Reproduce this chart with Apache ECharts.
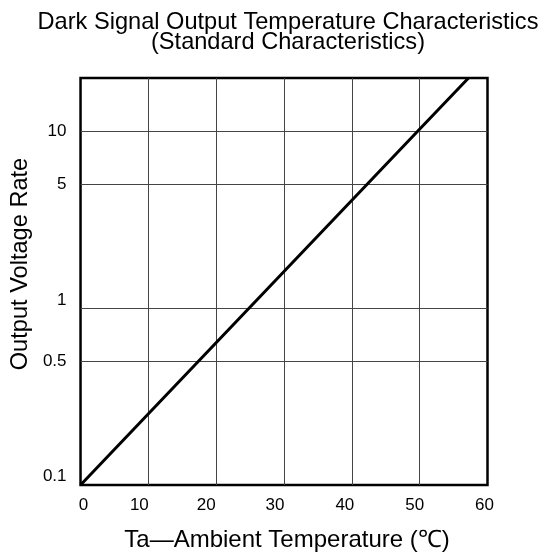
<!DOCTYPE html>
<html>
<head>
<meta charset="utf-8">
<script src="https://cdn.jsdelivr.net/npm/echarts@6/dist/echarts.min.js"></script>
<style>
html,body{margin:0;padding:0;background:#fff;}
#chart{width:551px;height:557px;}
</style>
</head>
<body>
<div id="chart"></div>
<script>
// ---- data ----
const titleLines = ['Dark Signal Output Temperature Characteristics', '(Standard Characteristics)'];
const xAxisTitle = 'Ta\u2014Ambient Temperature (\u2103)';
const yAxisTitle = 'Output Voltage Rate';
const xTickValues = [0, 10, 20, 30, 40, 50, 60];
const yTickLabels = [0.1, 0.5, 1, 5, 10];
const yGridValues = [0.5, 1, 5, 10];
const temperature = [0, 49.7, 57.2];
const outputRate = [0.1, 10, 20];

// ---- styles ----
const FONT = "'Liberation Sans', Arial, Helvetica, sans-serif";
const xLabelShift = [3, -9, -10, -9, -7, -5, -3];   // px, per x tick label
const yLabelLift = [9, 0, 8, 0, 0];                // px, per y tick label
const GRID_COLOR = '#444';

const xRich = {};
xTickValues.forEach((v, i) => {
  const s = xLabelShift[i];
  xRich['x' + i] = {
    fontSize: 17, fontFamily: FONT, color: '#000',
    padding: s >= 0 ? [0, 0, 0, 2 * s] : [0, -2 * s, 0, 0]
  };
});
const yRich = {};
yTickLabels.forEach((v, i) => {
  yRich['y' + i] = {
    fontSize: 17, fontFamily: FONT, color: '#000',
    padding: [0, 0, 2 * yLabelLift[i], 0]
  };
});

const chart = echarts.init(document.getElementById('chart'), null, {renderer: 'canvas'});
chart.setOption({
  animation: false,
  backgroundColor: '#fff',
  title: {
    text: titleLines.join('\n'),
    left: 288,
    top: 12,
    padding: 0,
    textAlign: 'center',
    textStyle: {fontSize: 23.6, fontWeight: 'normal', fontFamily: FONT, color: '#000', lineHeight: 20}
  },
  grid: {
    left: 80.5, right: 63.5, top: 78, bottom: 71.7,
    show: true, borderColor: '#000', borderWidth: 2.5, backgroundColor: 'transparent',
    containLabel: false
  },
  xAxis: {
    type: 'value',
    min: 0, max: 60, interval: 10,
    name: xAxisTitle,
    nameLocation: 'middle',
    nameGap: 43,
    nameTextStyle: {fontSize: 24, fontFamily: FONT, color: '#000', padding: [0, 0, 0, 6]},
    axisLine: {show: false},
    axisTick: {show: false},
    axisLabel: {
      margin: 12,
      interval: 0,
      fontSize: 17, fontFamily: FONT, color: '#000',
      formatter: v => {
        const i = xTickValues.indexOf(v);
        return i >= 0 ? '{x' + i + '|' + v + '}' : '';
      },
      rich: xRich
    },
    splitLine: {show: true, interval: 0, showMinLine: false, showMaxLine: false, lineStyle: {color: GRID_COLOR, width: 1}}
  },
  yAxis: {
    type: 'log',
    logBase: 10,
    min: 0.1, max: 20,
    name: yAxisTitle,
    nameLocation: 'middle',
    nameGap: 48.5,
    nameRotate: 90,
    nameTextStyle: {fontSize: 23.6, fontFamily: FONT, color: '#000', padding: [0, 0, 0, 35]},
    axisLine: {show: false},
    axisTick: {show: false},
    axisLabel: {
      margin: 14,
      interval: 0,
      fontSize: 17, fontFamily: FONT, color: '#000',
      customValues: yTickLabels,
      formatter: v => {
        let idx = -1;
        yTickLabels.forEach((t, i) => { if (Math.abs(t - v) < 1e-9) idx = i; });
        return idx >= 0 ? '{y' + idx + '|' + yTickLabels[idx] + '}' : '';
      },
      rich: yRich
    },
    splitLine: {show: false}
  },
  series: [{
    type: 'line',
    data: temperature.map((t, i) => [t, outputRate[i]]),
    symbol: 'none',
    lineStyle: {color: '#000', width: 3},
    clip: true,
    z: 5,
    markLine: {
      silent: true,
      z: 1,
      symbol: ['none', 'none'],
      label: {show: false},
      lineStyle: {color: GRID_COLOR, width: 1, type: 'solid'},
      emphasis: {disabled: true},
      data: yGridValues.map(v => ({yAxis: v}))
    }
  }]
});
</script>
</body>
</html>
